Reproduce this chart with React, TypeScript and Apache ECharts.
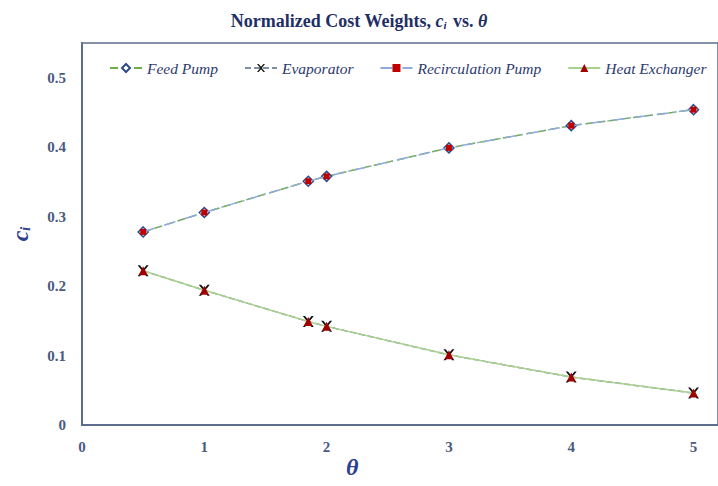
import React, { useEffect, useRef } from "react";
import * as echarts from "echarts";

const theta = [0.5, 1, 1.85, 2, 3, 4, 5];
const feedPump = [0.278, 0.306, 0.351, 0.358, 0.399, 0.431, 0.454];
const evaporator = [0.222, 0.194, 0.149, 0.142, 0.101, 0.069, 0.046];
const recirculationPump = [0.278, 0.306, 0.351, 0.358, 0.399, 0.431, 0.454];
const heatExchanger = [0.222, 0.194, 0.149, 0.142, 0.101, 0.069, 0.046];
const seriesNames = ["Feed Pump", "Evaporator", "Recirculation Pump", "Heat Exchanger"];

const pairs = (ys: number[]) => theta.map((t, i) => [t, ys[i]]);

const NAVY = "#1f2f66";
const AXIS = "#5d6d8e";
const LABEL = "#4a5a80";
const SERIF = "'Liberation Serif', 'DejaVu Serif', serif";

export default function App() {
  const ref = useRef<HTMLDivElement>(null);
  useEffect(() => {
    if (!ref.current) return;
    const chart = echarts.init(ref.current, undefined, { renderer: "svg" });
    chart.setOption({
      animation: false,
      backgroundColor: "#ffffff",
      title: {
        text: "{t|Normalized Cost Weights, }{c|c}{s|i}{t| vs. }{th|θ}",
        left: "center",
        top: 6,
        textStyle: {
          rich: {
            t: { fontFamily: SERIF, fontWeight: "bold", fontSize: 18, color: NAVY },
            c: { fontFamily: SERIF, fontWeight: "bold", fontStyle: "italic", fontSize: 18, color: NAVY },
            s: { fontFamily: SERIF, fontWeight: "bold", fontStyle: "italic", fontSize: 11, color: NAVY, verticalAlign: "bottom", padding: [8, 2, 0, 0] },
            th: { fontFamily: SERIF, fontWeight: "bold", fontStyle: "italic", fontSize: 18, color: NAVY },
          },
        },
      },
      legend: {
        data: seriesNames,
        top: 55,
        left: 104,
        itemWidth: 32,
        itemHeight: 10,
        itemGap: 26,
        textStyle: { fontFamily: SERIF, fontStyle: "italic", fontSize: 15.5, color: "#2e3a6e" },
      },
      grid: {
        left: 78,
        top: 43,
        right: -13,
        bottom: 61,
        show: true,
        borderColor: AXIS,
        borderWidth: 1.5,
        containLabel: false,
      },
      xAxis: {
        type: "value",
        min: 0,
        max: 5.2,
        interval: 1,
        splitLine: { show: false },
        axisTick: { show: false },
        axisLine: { show: true, lineStyle: { color: AXIS, width: 2 } },
        axisLabel: {
          showMaxLabel: false,
          margin: 14,
          fontFamily: SERIF,
          fontWeight: "bold",
          fontSize: 15,
          color: LABEL,
        },
      },
      yAxis: {
        type: "value",
        min: 0,
        max: 0.55,
        interval: 0.1,
        splitLine: { show: false },
        axisTick: { show: false },
        axisLine: { show: true, lineStyle: { color: AXIS, width: 2 } },
        axisLabel: {
          showMaxLabel: false,
          margin: 16,
          fontFamily: SERIF,
          fontWeight: "bold",
          fontSize: 15,
          color: LABEL,
          formatter: (v: number) => (v > 0.5 + 1e-9 ? "" : String(Math.round(v * 10) / 10)),
        },
        name: "{c|c}{s|i}",
        nameLocation: "middle",
        nameGap: 50,
        nameRotate: 90,
        nameTextStyle: {
          rich: {
            c: { fontFamily: SERIF, fontWeight: "bold", fontStyle: "italic", fontSize: 24, color: "#2e3f8f" },
            s: { fontFamily: SERIF, fontWeight: "bold", fontStyle: "italic", fontSize: 14, color: "#2e3f8f", verticalAlign: "bottom", padding: [10, 0, 0, 0] },
          },
        },
      },
      graphic: [
        {
          type: "text",
          left: 346,
          top: 455,
          style: {
            text: "θ",
            fontFamily: SERIF,
            fontWeight: "bold",
            fontStyle: "italic",
            fontSize: 24,
            fill: "#2e3f8f",
          },
        },
      ],
      series: [
        {
          name: seriesNames[0],
          type: "line",
          data: pairs(feedPump),
          symbol: "diamond",
          symbolSize: 10,
          itemStyle: { color: "#ffffff", borderColor: "#2e4a8a", borderWidth: 1.5 },
          lineStyle: { color: "#70ad47", width: 1.5, type: [8, 4] },
          z: 2,
        },
        {
          name: seriesNames[1],
          type: "line",
          data: pairs(evaporator),
          symbol: "path://M0,0 L2,0 L5,3.5 L8,0 L10,0 L6,5 L10,10 L8,10 L5,6.5 L2,10 L0,10 L4,5 Z",
          symbolSize: 11,
          itemStyle: { color: "#111111", borderWidth: 0 },
          lineStyle: { color: "#7f8fa6", width: 1.5, type: [6, 3] },
          z: 3,
        },
        {
          name: seriesNames[2],
          type: "line",
          data: pairs(recirculationPump),
          symbol: "rect",
          symbolSize: 6,
          itemStyle: { color: "#c00000", borderWidth: 0 },
          lineStyle: { color: "#8faadc", width: 1.5, type: [12, 4, 2, 4] },
          z: 4,
        },
        {
          name: seriesNames[3],
          type: "line",
          data: pairs(heatExchanger),
          symbol: "triangle",
          symbolSize: 9,
          itemStyle: { color: "#a00000", borderWidth: 0 },
          lineStyle: { color: "#a9d18e", width: 1.5, type: "solid" },
          z: 5,
        },
      ],
    });
    return () => chart.dispose();
  }, []);
  return (
    <div
      ref={ref}
      style={{ position: "fixed", left: 0, top: 0, width: 718, height: 486 }}
    />
  );
}
